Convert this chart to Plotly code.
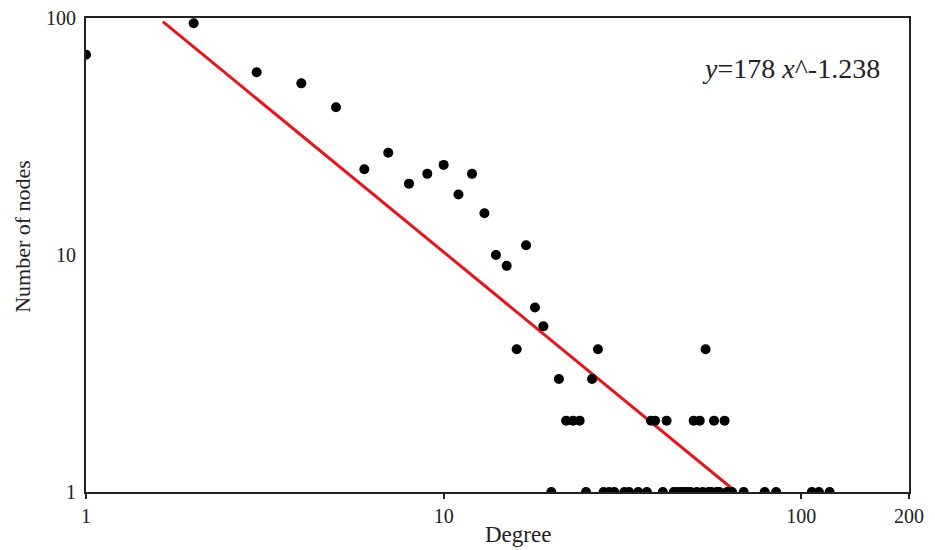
import plotly.graph_objects as go
import numpy as np

# Degree distribution data (degree, number of nodes)
degree = [1, 2, 3, 4, 5, 6, 7, 8, 9, 10, 11, 12, 13, 14, 15, 16, 17, 18, 19, 20,
          21, 22, 23, 24, 25, 26, 27, 28, 29, 30, 32, 33, 35, 37, 38, 39, 41, 42,
          44, 45, 46, 47, 48, 49, 50, 51, 52, 53, 54, 55, 56, 57, 58, 59, 61, 62, 64,
          69, 79, 85, 107, 112, 120]
nodes = [70, 95, 59, 53, 42, 23, 27, 20, 22, 24, 18, 22, 15, 10, 9, 4, 11, 6, 5, 1,
         3, 2, 2, 2, 1, 3, 4, 1, 1, 1, 1, 1, 1, 1, 2, 2, 1, 2,
         1, 1, 1, 1, 1, 1, 2, 1, 2, 1, 4, 1, 1, 2, 1, 1, 2, 1, 1,
         1, 1, 1, 1, 1, 1]

# Power-law fit y = a * x^b
fit_a = 178
fit_b = -1.238
fit_x = np.logspace(np.log10(1.64), np.log10(fit_a ** (1 / -fit_b)), 50)
fit_y = fit_a * fit_x ** fit_b

x_ticks = [1, 10, 100, 200]
y_ticks = [1, 10, 100]

serif = "Liberation Serif, Times New Roman, serif"

fig = go.Figure()
fig.add_trace(go.Scatter(x=fit_x, y=fit_y, mode="lines",
                         line=dict(color="#e8141b", width=3), showlegend=False))
fig.add_trace(go.Scatter(x=degree, y=nodes, mode="markers",
                         marker=dict(color="black", size=10), showlegend=False))

fig.update_layout(
    width=919, height=542,
    margin=dict(l=78, r=18, t=10, b=58, autoexpand=False),
    paper_bgcolor="white", plot_bgcolor="white",
    font=dict(family=serif, size=20, color="#222"),
    xaxis=dict(type="log", range=[0, np.log10(200)], tickvals=x_ticks,
               ticktext=[str(v) for v in x_ticks], showgrid=False, zeroline=False,
               showline=True, linecolor="#222", linewidth=2, mirror=True,
               ticks="outside", ticklen=5, tickwidth=2, tickcolor="#222",
               automargin=False, ticklabeloverflow="allow"),
    yaxis=dict(type="log", range=[0, 2], tickvals=y_ticks,
               ticktext=[str(v) for v in y_ticks], showgrid=False, zeroline=False,
               showline=True, linecolor="#222", linewidth=2, mirror=True,
               ticks="", automargin=False, ticklabeloverflow="allow",
               ticklabelstandoff=4),
    annotations=[
        dict(text="Degree", xref="paper", yref="paper", x=0.525, y=-0.09,
             xanchor="center", yanchor="middle", showarrow=False,
             font=dict(family=serif, size=23, color="#222")),
        dict(text="Number of nodes", xref="paper", yref="paper", x=-0.078, y=0.54,
             xanchor="center", yanchor="middle", showarrow=False, textangle=-90,
             font=dict(family=serif, size=22, color="#222")),
        dict(text="<i>y</i>=178 <i>x</i>^-1.238", xref="paper", yref="paper",
             x=0.967, y=0.894, xanchor="right", yanchor="middle", showarrow=False,
             font=dict(family=serif, size=28, color="#222")),
    ],
)

fig.write_html("out.html")
